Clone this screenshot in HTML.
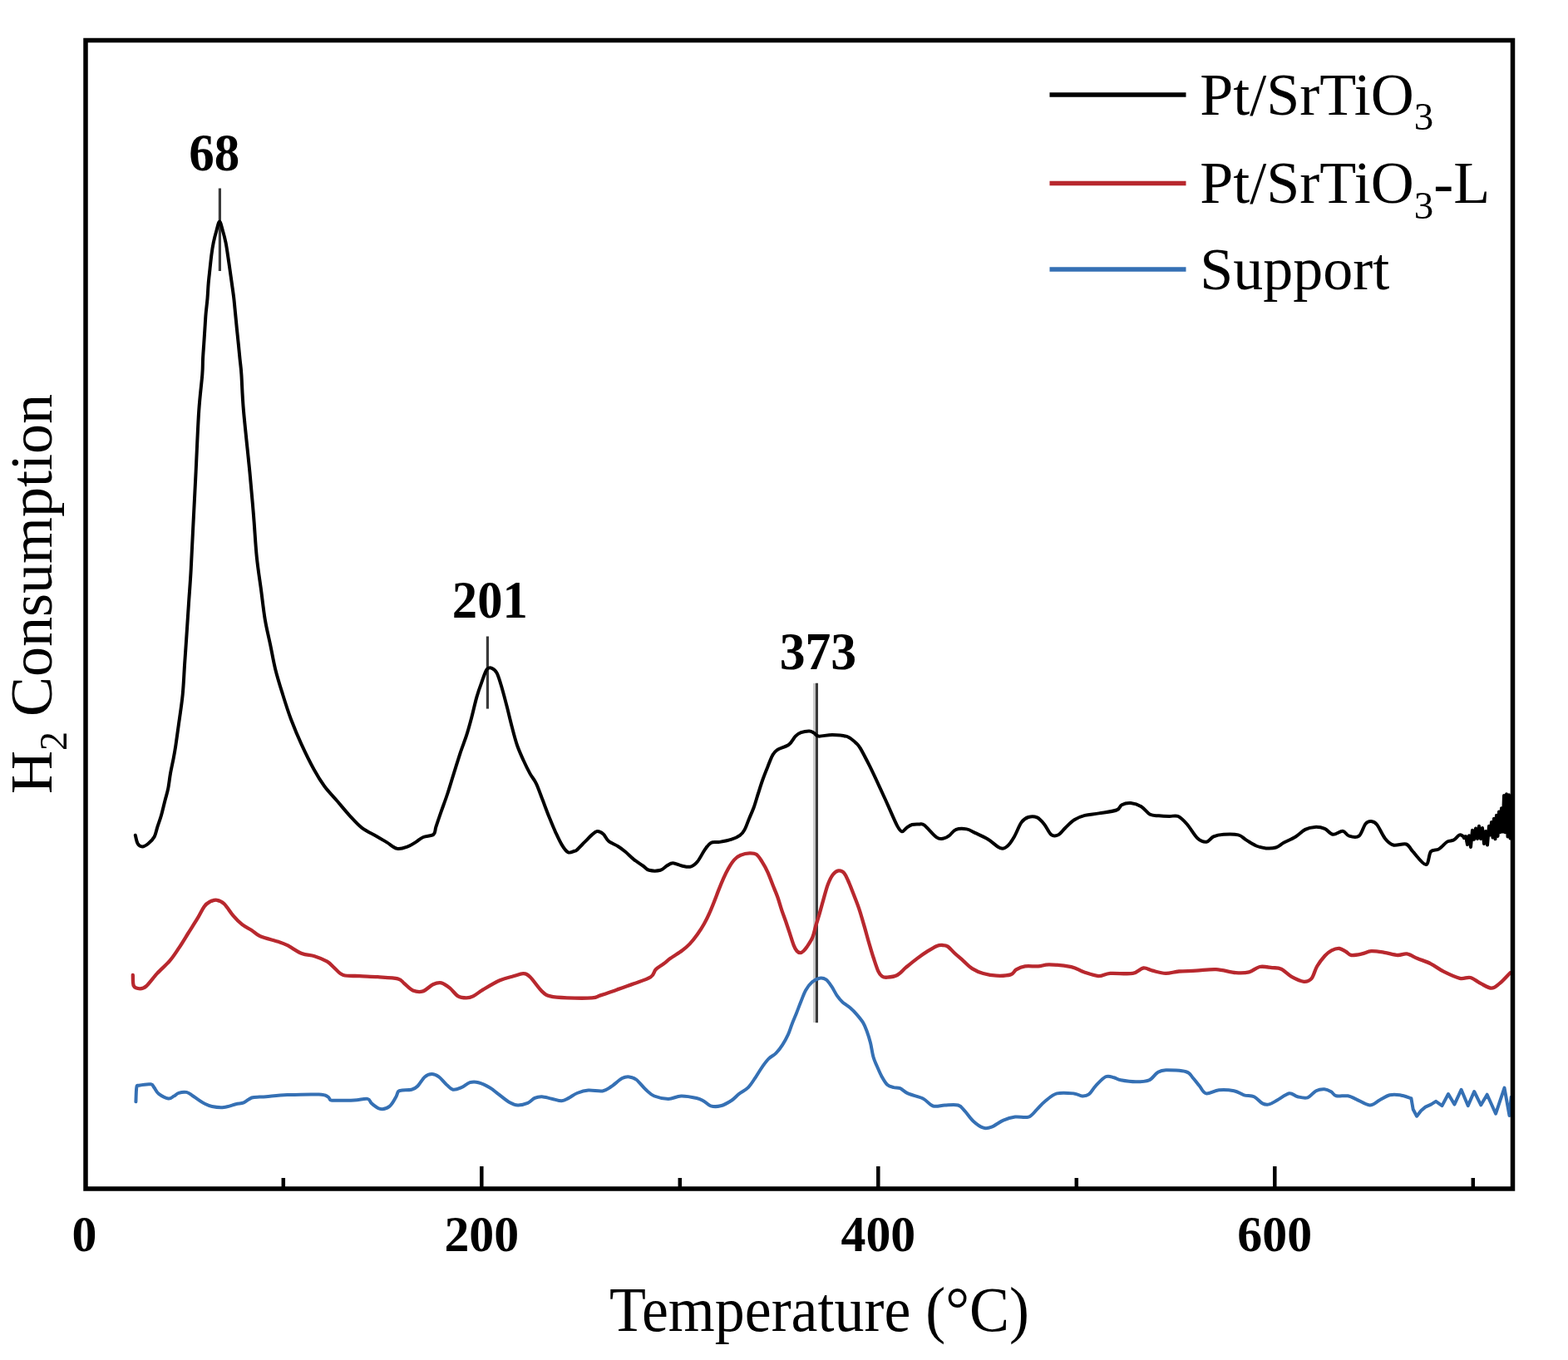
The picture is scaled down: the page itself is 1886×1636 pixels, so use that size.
<!DOCTYPE html>
<html><head><meta charset="utf-8"><title>H2 Consumption vs Temperature</title>
<style>html,body{margin:0;padding:0;background:#fff;}svg{display:block;}</style>
</head><body>
<svg width="1886" height="1636" viewBox="0 0 1886 1636">
<rect width="1886" height="1636" fill="#fff"/>
<line x1="979.3" y1="822" x2="979.3" y2="1230" stroke="#cccccc" stroke-width="2.5"/>
<g stroke="#3a3a3a" stroke-width="3.2" fill="none">
<line x1="264.4" y1="226.5" x2="264.4" y2="326"/>
<line x1="586.4" y1="765.5" x2="586.4" y2="852.6"/>
<line x1="982.4" y1="821.7" x2="982.4" y2="1230.2"/>
</g>
<path d="M162.8,1004.7 C163.3,1006.4 164.2,1012.4 165.6,1014.7 C167.0,1017.0 169.0,1018.4 171.1,1018.4 C173.2,1018.4 176.0,1016.7 178.4,1014.7 C180.8,1012.7 183.9,1009.9 185.7,1006.5 C187.5,1003.1 188.0,998.9 189.4,994.6 C190.8,990.3 192.5,986.1 194.0,980.8 C195.5,975.4 197.2,967.9 198.6,962.5 C200.0,957.1 201.1,954.1 202.2,948.7 C203.3,943.4 203.9,936.5 205.0,930.4 C206.1,924.3 207.6,917.8 208.7,912.1 C209.8,906.5 210.4,903.1 211.4,896.5 C212.4,889.9 213.4,882.4 214.8,872.3 C216.2,862.1 218.5,847.8 219.7,835.6 C220.9,823.4 221.3,811.1 222.1,798.9 C222.9,786.7 223.8,774.4 224.6,762.2 C225.4,750.0 226.2,737.8 227.0,725.6 C227.8,713.4 228.7,703.0 229.5,688.9 C230.3,674.8 230.9,661.4 231.9,641.2 C232.9,621.0 234.4,592.2 235.6,567.8 C236.8,543.3 237.9,514.0 239.2,494.5 C240.5,475.0 242.5,461.1 243.3,450.7 C244.1,440.3 243.7,438.5 244.0,432.4 C244.3,426.3 244.8,420.1 245.2,414.0 C245.6,407.9 246.0,401.8 246.4,395.7 C246.8,389.6 247.1,383.4 247.6,377.3 C248.1,371.2 249.0,365.1 249.5,359.0 C250.0,352.9 250.2,346.5 250.7,340.6 C251.2,334.7 251.9,329.2 252.5,323.5 C253.1,317.8 253.7,311.7 254.4,306.4 C255.1,301.1 255.8,296.6 256.8,291.7 C257.8,286.8 259.3,281.2 260.5,277.0 C261.7,272.8 262.9,266.5 264.1,266.5 C265.3,266.5 266.6,272.8 267.8,277.0 C269.0,281.2 270.5,286.8 271.5,291.7 C272.5,296.6 273.1,301.1 273.9,306.4 C274.7,311.7 275.6,317.8 276.4,323.5 C277.2,329.2 278.0,334.7 278.8,340.6 C279.6,346.5 280.6,352.9 281.3,359.0 C282.0,365.1 282.5,371.2 283.1,377.3 C283.7,383.4 284.3,389.6 284.9,395.7 C285.5,401.8 286.2,407.9 286.8,414.0 C287.4,420.1 288.0,426.3 288.6,432.4 C289.2,438.5 289.7,440.3 290.4,450.7 C291.1,461.1 291.3,475.0 293.0,494.5 C294.7,514.0 298.4,546.9 300.4,567.8 C302.4,588.7 303.6,603.0 305.0,620.0 C306.4,637.0 307.3,655.5 308.8,670.1 C310.3,684.7 312.1,695.2 313.8,707.7 C315.5,720.2 316.9,734.0 318.8,745.3 C320.7,756.6 323.0,765.3 325.1,775.3 C327.2,785.3 328.8,795.4 331.3,805.4 C333.8,815.4 337.0,825.5 340.1,835.5 C343.2,845.5 346.3,855.5 350.1,865.5 C353.9,875.5 358.1,885.6 362.7,895.6 C367.3,905.6 373.1,917.4 377.7,925.7 C382.3,934.1 385.6,939.4 390.2,945.7 C394.8,952.0 400.3,957.4 405.3,963.3 C410.3,969.1 415.3,975.4 420.3,980.8 C425.3,986.2 429.9,991.6 435.3,995.8 C440.7,1000.0 447.9,1003.0 452.9,1005.9 C457.9,1008.8 461.2,1010.9 465.4,1013.4 C469.6,1015.9 473.7,1020.1 477.9,1020.9 C482.1,1021.7 486.7,1019.7 490.4,1018.4 C494.1,1017.1 496.9,1015.0 500.0,1013.1 C503.1,1011.2 505.6,1008.5 509.2,1007.0 C512.8,1005.5 518.9,1005.9 521.4,1003.9 C523.9,1001.9 522.9,999.3 524.4,994.7 C525.9,990.1 528.3,983.0 530.6,976.4 C532.9,969.8 535.7,962.6 538.2,955.0 C540.7,947.4 543.2,938.8 545.8,930.6 C548.3,922.5 551.0,913.8 553.5,906.1 C556.0,898.5 558.8,891.8 561.1,884.7 C563.4,877.6 565.2,870.9 567.2,863.3 C569.2,855.7 571.3,846.0 573.3,838.9 C575.3,831.8 577.3,826.2 579.4,820.6 C581.5,815.0 583.5,808.1 585.6,805.3 C587.7,802.5 589.7,803.0 591.7,803.8 C593.7,804.6 595.8,805.8 597.8,809.9 C599.8,814.0 601.9,821.3 603.9,828.2 C605.9,835.1 608.0,843.2 610.0,851.1 C612.0,859.0 614.1,868.0 616.1,875.6 C618.1,883.2 619.9,890.4 622.2,897.0 C624.5,903.6 627.4,909.7 629.9,915.3 C632.4,920.9 635.0,926.0 637.5,930.6 C640.0,935.2 642.6,937.5 645.1,942.8 C647.6,948.1 650.2,956.0 652.8,962.6 C655.3,969.2 657.8,976.1 660.4,982.5 C663.0,988.9 665.5,995.2 668.1,1000.8 C670.7,1006.4 673.2,1012.0 675.7,1016.1 C678.2,1020.2 680.8,1024.0 683.3,1025.3 C685.8,1026.6 689.2,1024.3 691.0,1023.8 C692.8,1023.3 691.8,1024.2 693.8,1022.4 C695.8,1020.6 700.3,1015.9 703.3,1012.9 C706.3,1009.9 709.3,1006.5 711.8,1004.4 C714.3,1002.3 715.9,1000.3 718.2,1000.1 C720.5,999.9 723.3,1001.3 725.6,1003.3 C727.9,1005.2 729.0,1009.3 732.0,1011.8 C735.0,1014.3 740.2,1016.1 743.6,1018.2 C747.0,1020.3 748.9,1021.9 752.1,1024.5 C755.3,1027.2 759.2,1031.3 762.7,1034.1 C766.2,1036.9 770.3,1039.4 773.3,1041.5 C776.3,1043.6 777.2,1045.9 780.7,1046.8 C784.2,1047.7 791.0,1047.7 794.5,1046.8 C798.0,1045.9 799.5,1042.9 802.0,1041.5 C804.5,1040.1 806.4,1038.3 809.4,1038.3 C812.4,1038.3 816.5,1040.8 820.0,1041.5 C823.5,1042.2 827.4,1043.5 830.6,1042.6 C833.8,1041.7 836.3,1039.6 839.1,1036.2 C841.9,1032.8 845.0,1026.1 847.6,1022.4 C850.2,1018.7 852.0,1015.5 855.0,1013.9 C858.0,1012.3 861.4,1013.6 865.6,1012.9 C869.8,1012.2 875.9,1011.1 880.0,1009.7 C884.1,1008.4 887.4,1006.7 890.0,1004.8 C892.6,1002.9 893.8,1001.5 895.6,998.1 C897.5,994.8 899.2,989.2 901.1,984.7 C903.0,980.2 904.8,976.5 906.7,971.3 C908.6,966.1 910.4,959.2 912.3,953.5 C914.1,947.8 915.9,942.0 917.8,936.8 C919.6,931.6 921.5,927.0 923.4,922.4 C925.3,917.8 927.1,912.4 929.0,909.0 C930.9,905.6 931.2,904.5 934.5,902.3 C937.8,900.1 945.3,898.4 949.0,895.6 C952.7,892.8 954.4,888.0 956.8,885.6 C959.2,883.2 960.7,882.2 963.5,881.2 C966.3,880.2 970.9,879.4 973.5,879.5 C976.1,879.6 977.2,880.7 979.1,881.7 C981.0,882.7 980.9,885.2 984.6,885.6 C988.3,886.0 995.5,883.8 1001.3,883.9 C1007.1,884.0 1014.6,884.6 1019.2,886.2 C1023.9,887.8 1026.6,891.1 1029.2,893.4 C1031.8,895.7 1032.0,895.5 1034.8,900.1 C1037.6,904.7 1042.2,913.8 1045.9,921.2 C1049.6,928.6 1053.3,936.6 1057.0,944.6 C1060.7,952.6 1064.5,960.9 1068.2,969.1 C1071.9,977.3 1076.5,988.4 1079.3,993.6 C1082.1,998.8 1083.1,999.9 1084.9,1000.3 C1086.8,1000.7 1088.4,997.2 1090.4,995.8 C1092.4,994.4 1094.5,992.7 1097.0,992.0 C1099.5,991.3 1103.0,991.4 1105.5,991.5 C1108.0,991.6 1108.3,990.0 1111.8,992.6 C1115.3,995.2 1122.8,1004.8 1126.7,1007.4 C1130.6,1010.0 1132.6,1008.9 1135.1,1008.5 C1137.6,1008.1 1139.0,1007.1 1141.5,1005.3 C1144.0,1003.5 1146.5,999.2 1150.0,997.9 C1153.5,996.6 1158.8,996.7 1162.7,997.4 C1166.6,998.1 1169.0,1000.1 1173.3,1002.1 C1177.5,1004.1 1183.2,1006.5 1188.2,1009.5 C1193.2,1012.5 1199.1,1018.7 1203.0,1020.1 C1206.9,1021.5 1208.7,1020.3 1211.5,1018.0 C1214.3,1015.7 1217.2,1011.2 1220.0,1006.4 C1222.8,1001.6 1225.7,993.3 1228.5,989.4 C1231.3,985.5 1233.7,984.0 1236.9,983.0 C1240.1,982.0 1244.3,982.0 1247.5,983.4 C1250.7,984.8 1253.2,988.0 1256.0,991.5 C1258.8,995.0 1261.7,1002.1 1264.5,1004.2 C1267.3,1006.3 1270.2,1005.6 1273.0,1004.2 C1275.8,1002.8 1278.3,998.7 1281.5,995.7 C1284.7,992.7 1288.2,988.7 1292.1,986.2 C1296.0,983.7 1299.8,982.2 1304.8,980.9 C1309.8,979.6 1315.4,979.5 1321.8,978.4 C1328.2,977.3 1338.4,976.2 1343.0,974.5 C1347.6,972.8 1346.5,969.6 1349.3,968.2 C1352.1,966.8 1356.1,965.8 1360.0,966.1 C1363.9,966.5 1368.8,968.0 1372.7,970.3 C1376.6,972.6 1379.8,978.0 1383.3,979.8 C1386.8,981.6 1390.0,980.9 1393.9,981.3 C1397.8,981.7 1402.7,981.9 1406.6,982.0 C1410.5,982.1 1413.7,980.4 1417.2,982.0 C1420.7,983.6 1423.9,987.1 1427.8,991.5 C1431.7,995.9 1436.6,1005.0 1440.5,1008.5 C1444.4,1012.0 1448.0,1013.1 1451.2,1012.7 C1454.4,1012.4 1456.2,1007.9 1459.6,1006.4 C1463.0,1004.9 1466.8,1004.1 1471.8,1003.8 C1476.8,1003.5 1484.8,1003.3 1489.4,1004.4 C1494.0,1005.5 1495.6,1008.4 1499.2,1010.6 C1502.8,1012.8 1507.1,1015.9 1511.0,1017.5 C1514.9,1019.1 1518.9,1020.1 1522.8,1020.4 C1526.7,1020.7 1531.0,1020.6 1534.6,1019.5 C1538.2,1018.4 1540.5,1015.7 1544.4,1013.6 C1548.3,1011.5 1553.8,1009.3 1558.1,1006.7 C1562.3,1004.1 1566.0,999.9 1569.9,997.9 C1573.8,995.9 1577.7,995.1 1581.6,994.9 C1585.5,994.7 1589.8,995.4 1593.4,996.9 C1597.0,998.4 1599.6,1003.3 1603.2,1003.8 C1606.8,1004.3 1611.7,999.5 1615.0,999.8 C1618.3,1000.1 1619.5,1004.7 1622.8,1005.7 C1626.1,1006.7 1631.3,1008.2 1634.6,1005.7 C1637.9,1003.2 1640.0,993.9 1642.5,991.0 C1645.0,988.1 1647.0,987.9 1649.3,988.1 C1651.6,988.3 1653.4,988.6 1656.2,992.0 C1659.0,995.4 1662.7,1004.6 1666.0,1008.7 C1669.3,1012.8 1671.5,1015.4 1675.8,1016.5 C1680.0,1017.6 1687.6,1014.2 1691.5,1015.5 C1695.4,1016.8 1695.5,1020.3 1699.4,1024.4 C1703.3,1028.5 1711.4,1040.1 1715.0,1040.1 C1718.6,1040.1 1718.4,1027.5 1721.0,1024.4 C1723.6,1021.3 1727.4,1023.4 1730.7,1021.4 C1734.0,1019.4 1737.6,1014.4 1740.6,1012.6 C1743.5,1010.8 1746.0,1012.0 1748.4,1010.6 C1750.9,1009.2 1753.4,1005.3 1755.3,1004.5 C1757.2,1003.7 1759.2,1005.8 1760.0,1006.0 L1761.0,1008.0 L1763.0,1006.0 L1765.0,1016.0 L1767.0,1005.3 L1769.0,1018.9 L1771.0,998.7 L1773.0,1009.8 L1775.0,996.5 L1777.0,1009.0 L1779.0,993.8 L1781.0,1009.0 L1783.0,996.0 L1785.0,1015.0 L1787.0,1000.0 L1789.0,1016.5 L1791.0,993.7 L1792.5,1004.5 L1794.0,988.9 L1795.5,1007.5 L1797.0,984.7 L1798.5,1009.3 L1800.0,980.8 L1801.5,1005.9 L1803.0,976.6 L1804.5,1001.2 L1806.0,972.2 L1807.5,1000.5 L1809.0,957.1 L1810.5,1001.2 L1812.0,955.3 L1813.5,1006.4 L1815.0,956.2 L1816.5,1008.4" fill="none" stroke="#000" stroke-width="4.0" stroke-linejoin="round" stroke-linecap="round"/>
<path d="M159.8,1173.0 C160.0,1175.2 159.5,1183.4 160.9,1186.1 C162.3,1188.8 166.0,1189.3 168.5,1189.3 C171.0,1189.3 172.7,1189.2 176.1,1186.1 C179.5,1183.0 184.4,1176.0 189.1,1170.9 C193.8,1165.8 200.0,1160.8 204.3,1155.7 C208.7,1150.6 211.6,1145.9 215.2,1140.4 C218.8,1135.0 222.5,1128.8 226.1,1123.0 C229.7,1117.2 233.7,1111.1 237.0,1105.7 C240.3,1100.3 243.2,1093.9 245.7,1090.4 C248.2,1087.0 249.5,1086.3 252.0,1085.0 C254.5,1083.7 258.0,1082.4 260.9,1082.8 C263.8,1083.2 266.4,1084.1 269.6,1087.2 C272.9,1090.3 276.8,1097.1 280.4,1101.3 C284.0,1105.5 287.7,1109.3 291.3,1112.2 C294.9,1115.1 298.6,1116.4 302.2,1118.7 C305.8,1121.0 307.6,1124.0 313.0,1126.3 C318.4,1128.6 329.4,1131.0 334.8,1132.8 C340.2,1134.6 341.0,1134.8 345.7,1137.2 C350.4,1139.6 357.6,1144.8 363.0,1147.0 C368.4,1149.2 373.2,1148.6 378.3,1150.2 C383.4,1151.8 389.5,1154.4 393.5,1156.7 C397.5,1159.0 398.9,1161.6 402.2,1164.3 C405.4,1167.0 407.9,1171.4 413.0,1173.0 C418.1,1174.6 425.7,1173.7 432.6,1174.1 C439.5,1174.5 446.7,1174.7 454.3,1175.2 C461.9,1175.7 473.0,1176.0 478.4,1177.3 C483.8,1178.6 483.5,1180.9 486.5,1183.3 C489.5,1185.7 492.9,1189.9 496.6,1191.4 C500.3,1192.9 504.7,1193.6 508.7,1192.4 C512.7,1191.2 517.0,1186.0 520.7,1184.3 C524.4,1182.6 527.4,1181.6 530.8,1182.3 C534.2,1183.0 537.5,1185.7 540.9,1188.4 C544.3,1191.1 547.6,1196.4 551.0,1198.4 C554.4,1200.4 558.0,1200.4 561.0,1200.4 C564.0,1200.4 565.7,1200.1 569.1,1198.4 C572.5,1196.7 575.8,1193.6 581.2,1190.4 C586.6,1187.2 595.2,1182.0 601.3,1179.3 C607.3,1176.6 612.8,1175.6 617.5,1174.3 C622.2,1173.0 626.1,1171.0 629.5,1171.2 C632.9,1171.4 633.9,1171.8 637.6,1175.3 C641.3,1178.8 647.7,1188.6 651.7,1192.4 C655.7,1196.2 656.8,1197.1 661.8,1198.4 C666.8,1199.7 673.5,1200.1 681.9,1200.4 C690.3,1200.7 705.5,1200.9 712.2,1200.4 C718.9,1199.9 717.2,1199.1 722.2,1197.4 C727.2,1195.7 735.7,1192.8 742.4,1190.4 C749.1,1188.1 755.8,1185.8 762.5,1183.3 C769.2,1180.8 778.3,1178.1 782.7,1175.3 C787.1,1172.5 786.2,1168.8 788.7,1166.2 C791.2,1163.6 795.0,1161.7 798.0,1159.5 C801.0,1157.3 802.7,1155.5 806.4,1152.8 C810.1,1150.1 816.5,1146.4 820.4,1143.5 C824.3,1140.6 826.6,1138.7 829.7,1135.4 C832.8,1132.1 836.1,1127.9 839.0,1123.8 C841.9,1119.7 844.8,1115.1 847.1,1111.0 C849.4,1106.9 851.0,1103.7 852.9,1099.4 C854.8,1095.2 856.8,1090.3 858.7,1085.5 C860.6,1080.7 862.6,1075.2 864.5,1070.4 C866.4,1065.6 868.4,1060.7 870.3,1056.4 C872.2,1052.1 874.0,1048.5 876.1,1044.8 C878.2,1041.1 880.6,1037.1 883.1,1034.4 C885.6,1031.7 888.1,1029.9 891.2,1028.6 C894.3,1027.2 898.6,1026.4 901.7,1026.3 C904.8,1026.2 907.3,1026.1 909.8,1027.8 C912.3,1029.5 914.3,1033.0 916.6,1036.6 C918.9,1040.2 921.4,1044.7 923.5,1049.3 C925.6,1053.9 927.3,1059.1 929.3,1064.0 C931.2,1068.9 933.4,1073.7 935.2,1078.7 C937.0,1083.8 938.5,1089.4 940.1,1094.3 C941.7,1099.2 943.4,1103.3 945.0,1108.0 C946.6,1112.7 948.3,1117.8 949.9,1122.7 C951.5,1127.6 953.4,1133.9 954.8,1137.4 C956.2,1141.0 957.2,1142.5 958.5,1144.0 C959.8,1145.5 961.3,1146.2 962.6,1146.2 C963.9,1146.2 965.2,1145.2 966.5,1144.0 C967.8,1142.8 968.6,1142.0 970.4,1139.3 C972.2,1136.6 975.5,1131.8 977.3,1127.6 C979.1,1123.4 979.9,1118.3 981.2,1113.9 C982.5,1109.5 983.6,1106.2 985.1,1101.2 C986.6,1096.2 988.2,1089.8 990.0,1083.6 C991.8,1077.4 993.8,1069.2 995.8,1064.0 C997.8,1058.8 999.6,1055.1 1001.7,1052.3 C1003.8,1049.5 1006.3,1047.7 1008.6,1047.4 C1010.9,1047.1 1013.3,1047.8 1015.4,1050.3 C1017.5,1052.8 1019.3,1057.7 1021.3,1062.1 C1023.2,1066.5 1025.1,1071.7 1027.1,1076.7 C1029.0,1081.8 1031.0,1086.5 1033.0,1092.4 C1035.0,1098.3 1037.0,1105.2 1038.9,1111.9 C1040.9,1118.6 1042.8,1125.8 1044.7,1132.5 C1046.7,1139.2 1048.6,1146.0 1050.6,1152.0 C1052.6,1158.0 1054.8,1165.0 1056.5,1168.7 C1058.2,1172.5 1059.2,1173.3 1061.0,1174.5 C1062.8,1175.7 1064.2,1176.0 1067.2,1175.7 C1070.2,1175.5 1075.4,1175.0 1079.2,1173.0 C1083.0,1171.0 1085.8,1167.0 1089.8,1163.7 C1093.8,1160.4 1098.6,1156.4 1103.0,1153.1 C1107.4,1149.8 1112.3,1146.4 1116.3,1143.9 C1120.3,1141.4 1124.0,1139.1 1126.9,1137.9 C1129.8,1136.8 1131.3,1136.9 1133.5,1137.0 C1135.7,1137.1 1137.7,1137.0 1140.1,1138.6 C1142.5,1140.2 1145.0,1143.6 1148.1,1146.5 C1151.2,1149.4 1155.2,1152.7 1158.7,1155.8 C1162.2,1158.9 1165.3,1162.6 1169.3,1165.1 C1173.3,1167.6 1177.7,1169.6 1182.6,1171.0 C1187.5,1172.4 1193.0,1173.5 1198.5,1173.7 C1204.0,1173.9 1211.7,1173.6 1215.7,1172.4 C1219.7,1171.2 1219.4,1168.1 1222.3,1166.4 C1225.2,1164.7 1228.5,1163.1 1232.9,1162.4 C1237.3,1161.7 1243.9,1162.7 1248.8,1162.4 C1253.7,1162.1 1255.5,1160.3 1262.1,1160.4 C1268.7,1160.5 1281.7,1161.6 1288.6,1163.1 C1295.5,1164.6 1298.2,1167.5 1303.6,1169.3 C1309.0,1171.1 1315.8,1173.8 1321.1,1174.1 C1326.4,1174.4 1328.5,1171.4 1335.4,1170.9 C1342.3,1170.4 1355.9,1172.0 1362.5,1170.9 C1369.1,1169.8 1371.2,1165.0 1375.2,1164.5 C1379.2,1164.0 1381.8,1166.6 1386.3,1167.7 C1390.8,1168.8 1396.9,1170.8 1402.2,1170.9 C1407.5,1171.0 1412.0,1169.0 1418.1,1168.5 C1424.2,1168.0 1431.4,1168.1 1438.8,1167.7 C1446.2,1167.3 1454.8,1165.7 1462.7,1166.1 C1470.7,1166.5 1479.9,1169.6 1486.5,1170.1 C1493.1,1170.6 1497.6,1170.5 1502.4,1169.3 C1507.2,1168.1 1510.6,1163.9 1515.2,1163.0 C1519.8,1162.1 1525.7,1163.6 1530.0,1164.1 C1534.3,1164.5 1537.1,1163.8 1541.1,1165.7 C1545.1,1167.6 1549.4,1172.7 1553.9,1175.2 C1558.4,1177.7 1564.2,1180.5 1568.2,1180.8 C1572.2,1181.1 1575.1,1179.8 1577.7,1176.8 C1580.3,1173.8 1581.4,1167.0 1584.1,1162.5 C1586.8,1158.0 1590.7,1153.0 1593.6,1149.8 C1596.5,1146.6 1598.7,1144.9 1601.6,1143.4 C1604.5,1141.9 1608.2,1140.7 1611.1,1141.0 C1614.0,1141.3 1616.7,1143.7 1619.1,1145.0 C1621.5,1146.3 1622.2,1148.6 1625.4,1149.0 C1628.6,1149.4 1634.2,1148.2 1638.2,1147.4 C1642.2,1146.6 1644.8,1144.5 1649.3,1144.2 C1653.8,1143.9 1659.9,1145.0 1665.2,1145.8 C1670.5,1146.6 1676.6,1148.7 1681.1,1149.0 C1685.6,1149.3 1688.2,1146.7 1692.2,1147.4 C1696.2,1148.1 1700.2,1151.0 1705.0,1153.0 C1709.8,1155.0 1715.6,1156.6 1720.9,1159.3 C1726.2,1162.0 1731.0,1166.0 1736.8,1168.9 C1742.6,1171.8 1750.6,1175.6 1755.9,1176.8 C1761.2,1178.0 1764.4,1174.9 1768.6,1176.0 C1772.8,1177.1 1777.1,1181.1 1781.3,1183.2 C1785.5,1185.3 1790.3,1188.7 1794.0,1188.7 C1797.7,1188.7 1799.9,1186.2 1803.6,1183.2 C1807.3,1180.2 1814.2,1172.5 1816.3,1170.4" fill="none" stroke="#b8282e" stroke-width="4.3" stroke-linejoin="round" stroke-linecap="round"/>
<path d="M163.4,1325.3 C163.6,1322.4 163.7,1311.4 164.3,1308.1 C164.9,1304.8 164.3,1306.3 167.2,1305.7 C170.1,1305.1 178.5,1303.9 181.5,1304.3 C184.5,1304.7 183.7,1306.2 185.3,1308.1 C186.9,1310.0 188.1,1313.6 191.0,1315.8 C193.9,1318.0 199.5,1321.0 202.5,1321.5 C205.5,1322.0 207.1,1319.7 209.2,1318.6 C211.3,1317.5 212.4,1315.6 214.9,1314.8 C217.4,1314.0 221.7,1313.4 224.4,1313.9 C227.1,1314.4 228.9,1316.3 231.1,1317.7 C233.3,1319.1 235.4,1320.8 237.8,1322.4 C240.2,1324.0 242.5,1325.8 245.4,1327.2 C248.3,1328.6 251.0,1330.2 255.0,1331.0 C259.0,1331.8 264.5,1332.5 269.3,1332.0 C274.1,1331.5 279.6,1329.2 283.6,1328.2 C287.6,1327.2 290.0,1327.6 293.2,1326.3 C296.4,1325.0 299.5,1321.6 302.7,1320.5 C305.9,1319.4 309.3,1319.8 312.2,1319.6 C315.1,1319.4 314.4,1319.6 320.0,1319.2 C325.6,1318.8 334.9,1317.5 345.5,1317.1 C356.1,1316.7 375.5,1316.2 383.6,1316.6 C391.7,1316.9 391.9,1318.1 394.2,1319.2 C396.5,1320.3 396.1,1322.4 397.4,1323.2 C398.7,1324.0 397.2,1323.8 402.0,1323.8 C406.8,1323.8 419.3,1323.8 426.0,1323.5 C432.7,1323.2 438.4,1321.2 442.0,1321.9 C445.6,1322.6 444.7,1325.7 447.3,1327.7 C449.9,1329.7 454.4,1333.6 457.9,1334.1 C461.4,1334.6 465.5,1333.2 468.5,1330.9 C471.5,1328.6 474.1,1323.3 475.9,1320.3 C477.7,1317.3 477.8,1314.4 479.1,1312.9 C480.5,1311.4 481.4,1311.8 484.0,1311.5 C486.6,1311.2 491.9,1311.6 495.0,1310.8 C498.1,1310.0 499.8,1309.1 502.4,1306.5 C505.0,1303.9 508.1,1297.8 510.9,1295.4 C513.7,1293.0 516.6,1292.1 519.4,1292.1 C522.2,1292.1 525.1,1293.4 527.9,1295.4 C530.7,1297.4 533.5,1301.4 536.3,1303.9 C539.1,1306.5 541.7,1310.0 544.8,1310.7 C547.9,1311.4 551.6,1309.6 555.0,1308.2 C558.4,1306.8 561.8,1303.2 565.2,1302.2 C568.6,1301.2 571.5,1301.2 575.4,1302.2 C579.3,1303.2 584.9,1305.9 588.9,1308.2 C592.9,1310.5 595.1,1312.8 599.1,1315.8 C603.1,1318.8 608.7,1323.7 612.7,1326.0 C616.7,1328.3 619.2,1329.3 622.9,1329.4 C626.6,1329.5 631.4,1328.2 634.8,1326.8 C638.2,1325.4 640.4,1322.2 643.2,1320.9 C646.0,1319.6 648.3,1319.1 651.7,1319.2 C655.1,1319.3 659.6,1320.9 663.6,1321.7 C667.6,1322.5 672.1,1324.4 675.5,1324.3 C678.9,1324.2 680.9,1322.5 684.0,1320.9 C687.1,1319.4 690.1,1316.5 694.1,1315.0 C698.1,1313.5 702.6,1312.0 707.7,1311.6 C712.8,1311.2 720.2,1313.1 724.7,1312.4 C729.2,1311.7 731.0,1309.8 734.9,1307.3 C738.8,1304.8 744.7,1299.1 748.4,1297.1 C752.1,1295.1 754.1,1295.1 756.9,1295.4 C759.7,1295.7 762.1,1296.2 765.4,1298.8 C768.7,1301.4 773.2,1307.5 776.8,1310.8 C780.4,1314.1 782.5,1316.7 787.0,1318.5 C791.5,1320.3 798.5,1321.9 803.9,1321.9 C809.3,1321.9 813.5,1318.7 819.2,1318.5 C824.9,1318.3 833.4,1320.0 837.9,1321.0 C842.4,1322.0 843.5,1322.9 846.3,1324.4 C849.1,1326.0 851.4,1329.3 854.8,1330.3 C858.2,1331.3 862.5,1331.4 866.7,1330.3 C870.9,1329.2 876.3,1326.1 880.0,1323.7 C883.7,1321.3 885.6,1318.5 888.9,1315.9 C892.2,1313.3 896.7,1311.4 900.0,1308.1 C903.3,1304.8 906.1,1299.9 908.9,1295.8 C911.7,1291.7 914.1,1287.3 916.7,1283.6 C919.3,1279.9 921.7,1276.4 924.5,1273.6 C927.3,1270.8 930.6,1269.7 933.4,1266.9 C936.2,1264.1 938.8,1260.6 941.2,1256.9 C943.6,1253.2 946.0,1248.7 947.9,1244.6 C949.8,1240.5 950.7,1236.7 952.4,1232.4 C954.1,1228.1 956.0,1223.7 957.9,1219.0 C959.8,1214.3 961.6,1209.1 963.5,1204.5 C965.4,1199.9 966.9,1195.1 969.1,1191.2 C971.3,1187.3 974.1,1183.6 976.9,1181.2 C979.7,1178.8 983.0,1177.2 985.8,1176.7 C988.6,1176.2 991.2,1176.7 993.6,1178.4 C996.0,1180.1 998.1,1183.5 1000.3,1186.7 C1002.5,1190.0 1004.7,1194.7 1006.9,1197.9 C1009.1,1201.1 1011.0,1203.3 1013.6,1205.7 C1016.2,1208.1 1019.7,1209.9 1022.5,1212.3 C1025.3,1214.7 1027.7,1217.1 1030.3,1220.1 C1032.9,1223.1 1036.0,1226.8 1038.1,1230.1 C1040.1,1233.4 1041.1,1236.1 1042.6,1240.2 C1044.1,1244.3 1045.7,1249.4 1047.0,1254.6 C1048.3,1259.8 1049.1,1266.6 1050.4,1271.3 C1051.7,1276.0 1053.1,1278.6 1054.8,1282.5 C1056.5,1286.4 1058.4,1291.0 1060.4,1294.7 C1062.5,1298.4 1064.7,1302.6 1067.1,1304.8 C1069.5,1307.0 1072.3,1307.4 1074.9,1308.1 C1077.5,1308.8 1079.7,1308.0 1082.6,1309.2 C1085.5,1310.4 1087.5,1313.4 1092.1,1315.4 C1096.7,1317.5 1105.2,1319.0 1110.2,1321.5 C1115.2,1324.0 1117.9,1329.2 1122.3,1330.5 C1126.7,1331.8 1131.4,1329.7 1136.4,1329.5 C1141.4,1329.3 1148.5,1328.3 1152.5,1329.5 C1156.5,1330.7 1157.6,1333.4 1160.6,1336.6 C1163.6,1339.8 1167.0,1345.3 1170.7,1348.7 C1174.4,1352.1 1179.1,1355.5 1182.8,1356.7 C1186.5,1357.9 1188.8,1357.2 1192.8,1355.7 C1196.8,1354.2 1202.2,1349.6 1206.9,1347.6 C1211.6,1345.6 1216.0,1344.3 1221.0,1343.6 C1226.0,1342.9 1232.8,1345.1 1237.2,1343.6 C1241.6,1342.1 1243.9,1337.8 1247.2,1334.6 C1250.5,1331.4 1253.3,1327.7 1257.3,1324.5 C1261.3,1321.3 1265.7,1316.9 1271.4,1315.4 C1277.1,1313.9 1286.6,1314.9 1291.6,1315.4 C1296.6,1315.9 1298.6,1318.2 1301.6,1318.4 C1304.6,1318.6 1307.0,1318.4 1309.7,1316.4 C1312.4,1314.4 1314.4,1309.8 1317.8,1306.3 C1321.2,1302.8 1326.2,1297.0 1329.9,1295.3 C1333.6,1293.6 1336.9,1295.6 1339.9,1296.3 C1342.9,1297.0 1343.6,1298.5 1348.0,1299.3 C1352.4,1300.1 1360.4,1301.3 1366.1,1301.3 C1371.8,1301.3 1377.8,1301.1 1382.2,1299.3 C1386.6,1297.5 1388.9,1292.2 1392.3,1290.2 C1395.7,1288.2 1396.7,1287.4 1402.4,1287.2 C1408.1,1287.0 1421.2,1287.7 1426.6,1289.2 C1432.0,1290.7 1431.9,1293.5 1434.6,1296.3 C1437.3,1299.1 1440.0,1303.1 1442.7,1306.3 C1445.4,1309.5 1446.8,1314.6 1450.7,1315.4 C1454.6,1316.2 1460.5,1311.7 1466.1,1311.2 C1471.7,1310.7 1479.3,1311.2 1484.3,1312.2 C1489.3,1313.2 1492.3,1316.1 1496.3,1317.3 C1500.3,1318.5 1504.7,1317.6 1508.4,1319.3 C1512.1,1321.0 1515.5,1325.9 1518.5,1327.4 C1521.5,1328.9 1523.6,1329.1 1526.6,1328.4 C1529.6,1327.7 1532.6,1325.5 1536.6,1323.3 C1540.6,1321.1 1546.7,1316.0 1550.7,1315.3 C1554.7,1314.6 1557.1,1318.5 1560.8,1319.3 C1564.5,1320.1 1569.2,1321.5 1572.9,1320.3 C1576.6,1319.1 1579.6,1313.9 1583.0,1312.2 C1586.4,1310.5 1590.1,1310.0 1593.1,1310.2 C1596.1,1310.4 1598.8,1311.9 1601.1,1313.2 C1603.4,1314.5 1603.8,1317.5 1607.2,1318.3 C1610.6,1319.1 1617.3,1317.6 1621.3,1318.3 C1625.3,1319.0 1626.9,1320.4 1631.3,1322.3 C1635.7,1324.2 1642.8,1329.2 1647.5,1329.4 C1652.2,1329.6 1655.6,1325.3 1659.6,1323.3 C1663.6,1321.3 1667.6,1318.3 1671.6,1317.3 C1675.6,1316.3 1679.4,1316.6 1683.7,1317.3 C1688.0,1318.0 1695.1,1320.5 1697.4,1321.2 L1699.7,1334.5 L1704.1,1342.7 L1709.3,1336.0 L1714.5,1331.6 L1721.2,1328.6 L1727.1,1324.9 L1734.5,1330.1 L1742.0,1316.0 L1749.4,1328.6 L1757.6,1310.8 L1765.7,1330.1 L1773.2,1313.0 L1781.3,1329.3 L1788.7,1316.7 L1799.1,1339.7 L1809.5,1308.6 L1815.5,1342.0 L1817.7,1319.7" fill="none" stroke="#3570b4" stroke-width="4.0" stroke-linejoin="round" stroke-linecap="round"/>
<rect x="103" y="48.5" width="1716.5" height="1381.5" fill="none" stroke="#000" stroke-width="5.5"/>
<g stroke="#000" stroke-width="4.5">
<line x1="579.3" y1="1403" x2="579.3" y2="1430"/>
<line x1="1056.3" y1="1403" x2="1056.3" y2="1430"/>
<line x1="1533.3" y1="1403" x2="1533.3" y2="1430"/>
<line x1="340.8" y1="1417" x2="340.8" y2="1430"/>
<line x1="817.8" y1="1417" x2="817.8" y2="1430"/>
<line x1="1294.8" y1="1417" x2="1294.8" y2="1430"/>
<line x1="1771.8" y1="1417" x2="1771.8" y2="1430"/>
</g>
<g font-family="'Liberation Serif', 'Times New Roman', serif" font-weight="bold" font-size="62" text-anchor="middle" fill="#000">
<text x="101.5" y="1504.5" textLength="29.9" lengthAdjust="spacingAndGlyphs">0</text>
<text x="579.3" y="1504.5" textLength="89.7" lengthAdjust="spacingAndGlyphs">200</text>
<text x="1056.4" y="1504.5" textLength="89.7" lengthAdjust="spacingAndGlyphs">400</text>
<text x="1533.2" y="1504.5" textLength="89.7" lengthAdjust="spacingAndGlyphs">600</text>
<text x="257.7" y="205.4" font-size="63" textLength="61" lengthAdjust="spacingAndGlyphs">68</text>
<text x="589.3" y="743" font-size="63" textLength="91" lengthAdjust="spacingAndGlyphs">201</text>
<text x="983.9" y="805" font-size="63" textLength="92.5" lengthAdjust="spacingAndGlyphs">373</text>
</g>
<text font-family="'Liberation Serif', 'Times New Roman', serif" font-size="76" x="733" y="1601" fill="#000" textLength="505" lengthAdjust="spacingAndGlyphs">Temperature (°C)</text>
<text font-family="'Liberation Serif', 'Times New Roman', serif" font-size="72" fill="#000" transform="translate(62,955) rotate(-90)">H<tspan font-size="46" dy="18">2</tspan><tspan dy="-18"> Consumption</tspan></text>
<line x1="1262.5" y1="114" x2="1426.5" y2="114" stroke="#000" stroke-width="5.5"/>
<text font-family="'Liberation Serif', 'Times New Roman', serif" font-size="72" x="1443.2" y="137.5" fill="#000">Pt/SrTiO<tspan font-size="47" dy="18.6">3</tspan></text>
<line x1="1262.5" y1="220.5" x2="1426.5" y2="220.5" stroke="#b8282e" stroke-width="5.5"/>
<text font-family="'Liberation Serif', 'Times New Roman', serif" font-size="72" x="1443.2" y="244.0" fill="#000">Pt/SrTiO<tspan font-size="47" dy="18.6">3</tspan><tspan dy="-18.6">-L</tspan></text>
<line x1="1262.5" y1="324" x2="1426.5" y2="324" stroke="#3570b4" stroke-width="5.5"/>
<text font-family="'Liberation Serif', 'Times New Roman', serif" font-size="72" x="1443.2" y="347.5" fill="#000">Support</text>
</svg>
</body></html>
